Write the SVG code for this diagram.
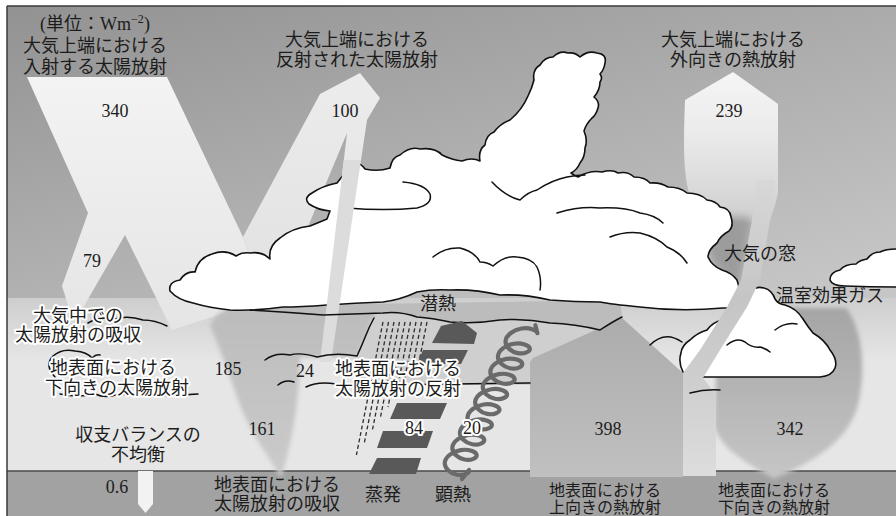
<svg xmlns="http://www.w3.org/2000/svg" width="896" height="516" viewBox="0 0 896 516">
  <style>
    .jp { font-family: "Liberation Serif", "Noto Sans CJK JP", serif; font-size: 18px; fill: #1c1c1c; text-anchor: middle; }
    .jp-s { font-size: 16px; }
    .num { font-family: "Liberation Serif", serif; font-size: 18px; fill: #1c1c1c; text-anchor: middle; }
    .halo { stroke: #ffffff; stroke-width: 4; stroke-linejoin: round; paint-order: stroke; }
    .cloud { fill: #ffffff; stroke: #111111; stroke-width: 1.6; stroke-linejoin: round; }
    .cline { fill: none; stroke: #111111; stroke-width: 1.5; stroke-linecap: round; }
    .rain { stroke: #2e2e2e; stroke-width: 1.3; stroke-dasharray: 4 2.6; }
    .evap { fill: #595959; }
  </style>
  <defs>
    <linearGradient id="sky" gradientUnits="userSpaceOnUse" x1="0" y1="6" x2="120" y2="470">
      <stop offset="0" stop-color="#929292"/>
      <stop offset="0.55" stop-color="#afafaf"/>
      <stop offset="1" stop-color="#c6c6c6"/>
    </linearGradient>
    <linearGradient id="low" gradientUnits="userSpaceOnUse" x1="0" y1="296" x2="0" y2="362">
      <stop offset="0" stop-color="#cdcdcd"/>
      <stop offset="1" stop-color="#e6e6e6"/>
    </linearGradient>
    <linearGradient id="b340" gradientUnits="userSpaceOnUse" x1="0" y1="77" x2="0" y2="330">
      <stop offset="0" stop-color="#f3f3f3"/>
      <stop offset="1" stop-color="#e5e5e5"/>
    </linearGradient>
    <linearGradient id="b100" gradientUnits="userSpaceOnUse" x1="0" y1="73" x2="0" y2="362">
      <stop offset="0" stop-color="#ececec"/>
      <stop offset="1" stop-color="#dedede"/>
    </linearGradient>
    <linearGradient id="b239" gradientUnits="userSpaceOnUse" x1="0" y1="72" x2="0" y2="222">
      <stop offset="0" stop-color="#f5f5f5"/>
      <stop offset="0.4" stop-color="#ebebeb"/>
      <stop offset="1" stop-color="#cfcfcf"/>
    </linearGradient>
    <linearGradient id="funnel" gradientUnits="userSpaceOnUse" x1="0" y1="306" x2="0" y2="478">
      <stop offset="0" stop-color="#bcbcbc"/>
      <stop offset="1" stop-color="#cbcbcb"/>
    </linearGradient>
    <linearGradient id="up398" gradientUnits="userSpaceOnUse" x1="0" y1="318" x2="0" y2="477">
      <stop offset="0" stop-color="#acacac"/>
      <stop offset="1" stop-color="#c0c0c0"/>
    </linearGradient>
    <linearGradient id="down342" gradientUnits="userSpaceOnUse" x1="0" y1="308" x2="0" y2="479">
      <stop offset="0" stop-color="#a5a5a5"/>
      <stop offset="1" stop-color="#c6c6c6"/>
    </linearGradient>
    <linearGradient id="win" gradientUnits="userSpaceOnUse" x1="0" y1="180" x2="0" y2="476">
      <stop offset="0" stop-color="#d8d8d8"/>
      <stop offset="0.4" stop-color="#c5c5c5"/>
      <stop offset="0.7" stop-color="#cfcfcf"/>
      <stop offset="1" stop-color="#dddddd"/>
    </linearGradient>
    <filter id="soft" x="-10%" y="-10%" width="120%" height="120%">
      <feGaussianBlur stdDeviation="2"/>
    </filter>
    <filter id="softer" x="-20%" y="-20%" width="140%" height="140%">
      <feGaussianBlur stdDeviation="4"/>
    </filter>
  </defs>

  <!-- paper and frame -->
  <rect x="0" y="0" width="896" height="516" fill="#ffffff"/>
  <rect x="7" y="6" width="889" height="510" fill="url(#sky)"/>

  <!-- lower atmosphere -->
  <path d="M7,298 L896,298 L896,471 L7,471 Z" fill="url(#low)"/>

  <!-- ground -->
  <g id="ground">
    <rect x="7" y="471" width="889" height="45" fill="#a2a2a2"/>
    <line x1="7" y1="471" x2="896" y2="471" stroke="#4a4a4a" stroke-width="1.5"/>
  </g>

  <!-- solar and thermal flux bands -->
  <g id="flux-bands">
    <path id="incoming-340" d="M27,77 L167,77 L243,237 L262,290 L240,308 L172,330 L125,235 L80,313 L66,313 L68,305 L62,286 L88,213 Z" fill="url(#b340)"/>
    <path id="reflected-100" d="M243,237 L320,94 L360,73 L380,98 L367,120 L331,362 L320,362 L347,133 L292,265 L262,290 Z" fill="url(#b100)"/>
    <path id="outgoing-239" d="M733,72 L778,104 L778,192 C776,205 772,212 770,222 L752,222 C740,222 700,215 690,195 C682,175 684,130 685,100 Z" fill="url(#b239)"/>
    <path id="window-shade" d="M700,214 L752,218 L741,282 L733,288 L712,262 Z" fill="#9c9c9c" filter="url(#softer)"/>
    <path id="absorbed-161" d="M236,306 L380,306 L373,318 L358,357 L300,357 C299,390 296,430 281,478 C268,455 248,430 238,400 C228,370 218,345 210,325 C215,315 225,308 236,306 Z" fill="url(#funnel)" filter="url(#soft)"/>
    <path id="latent-band" d="M230,306 L620,300 L622,316 Q610,322 600,330 Q575,324 550,323 Q525,318 500,320 Q475,324 450,322 Q432,318 417,317 Q400,311 383,313 Q355,314 323,315 Q285,312 250,310 Z" fill="#bcbcbc"/>
    <path id="low-cloud" d="M374,318 Q380,312 383,313 Q400,311 417,317 Q432,318 450,322 Q475,324 500,320 Q525,318 550,323 Q575,324 600,330 Q612,322 622,317 L537,357 L533,385 L358,385 L358,357 Q362,345 366,335 Q370,325 374,318 Z" fill="#cfcfcf"/>
    <path id="up-398" d="M533,358 L622,318 L683,373 L683,477 L530,477 L530,362 Z" fill="url(#up398)"/>
    <path id="down-342" d="M735,308 L846,308 C860,325 866,360 860,395 C855,430 830,455 774,479 C745,462 720,448 714,425 L716,378 L725,330 Z" fill="url(#down342)" filter="url(#soft)"/>
    <path id="imbalance-06" d="M138,471 L153,471 L153,504 L145.5,513 L138,504 Z" fill="#f2f2f2"/>
  </g>

  <!-- clouds -->
  <g id="clouds">
    <path id="main-cloud" class="cloud" d="M170,291 Q168,282 180,280 Q186,271 195,272 Q198,258 212,254 Q225,249 236,256 Q242,252 250,253 Q262,251 270,259 Q268,246 280,238 Q292,228 310,226 Q320,222 327,219 L330,211 Q318,210 309,204 Q303,198 312,193 Q322,186 337,183 L352,164 Q358,160 365,169 Q378,172 390,168 Q392,157 400,155 Q410,146 420,149 Q435,147 442,155 Q452,160 462,161 Q472,157 480,161 Q478,150 485,145 Q486,135 494,132 Q500,124 510,120 Q522,110 528,96 Q532,88 534,80 Q532,70 540,65 Q545,57 553,57 Q560,50 568,53 Q575,52 580,57 Q588,50 597,53 Q607,54 605,63 Q604,70 600,74 Q603,78 600,82 Q600,90 594,97 Q600,102 598,108 Q596,115 592,118 Q586,124 584,131 Q588,140 585,148 Q585,157 580,163 Q577,170 571,173 Q575,176 578,177 Q590,170 602,172 Q612,169 618,173 Q628,171 634,177 Q645,177 650,183 Q660,182 668,187 Q680,187 687,193 Q700,193 707,200 Q716,201 720,207 Q730,208 731,217 Q734,226 729,231 Q720,236 717,243 Q708,250 708,257 Q712,266 722,270 Q732,273 737,280 Q741,292 740,308 L723,308 Q680,312 640,307 Q610,304 600,302 Q575,302 550,300 Q525,294 500,295 Q475,289 450,290 Q432,289 417,292 Q400,300 383,302 Q355,303 327,305 Q300,307 283,307 Q255,311 230,310 Q210,308 193,303 Q178,300 170,291 Z"/>
    <path class="cline" d="M347,208 Q385,211 417,208 Q433,204 430,194 Q425,184 403,182"/>
    <path class="cline" d="M492,182 Q505,196 520,200 Q528,192 537,190 Q552,180 567,177 Q577,175 585,175"/>
    <path class="cline" d="M557,213 Q580,206 600,208 Q625,207 640,213 Q655,215 663,223"/>
    <path class="cline" d="M610,237 Q625,231 640,233 Q657,237 667,247 Q680,252 687,263"/>
    <path class="cline" d="M433,257 Q445,247 460,248 Q475,252 480,262 Q487,262 493,266 Q505,255 517,257 Q532,258 537,267 Q542,278 540,290"/>
    <path id="right-cloud" class="cloud" d="M897,249 Q886,249 880,252 Q872,252 867,259 Q860,260 856,264 Q845,264 840,270 Q830,272 830,280 Q832,286 845,286 Q870,287 897,287"/>
    <path id="low-right-cloud" class="cloud" d="M683,372 Q678,362 681,353 Q682,345 690,340 Q697,333 707,330 Q713,322 722,320 Q730,316 737,307 Q742,296 750,290 Q757,286 764,288 Q772,290 775,299 Q778,304 785,305 Q796,308 803,319 Q808,327 813,333 Q825,340 830,350 Q838,360 835,368 Q832,376 820,377 L700,377 Q688,377 683,372 Z"/>
    <path class="cline" d="M727,345 Q737,337 745,342 Q752,348 760,347 Q767,349 770,352"/>
    <path class="cline" d="M775,330 Q785,322 797,324"/>
    <path class="cline" d="M650,345 Q665,330 682,342"/>
  </g>

  <!-- strips crossing the clouds -->
  <path id="surface-reflection-strip" d="M343.8,160 L361,160 L331,362 L320,362 Z" fill="#dcdcdc"/>
  <path id="atmospheric-window" d="M683,476 L716,476 L716,395 L703,378 L720,350 L747,307 L760,280 L770,220 L775,180 L757,180 L752,220 L741,280 L727,307 L700,350 L683,373 Z" fill="url(#win)"/>

  <!-- low cloud outlines and latent heat band edge -->
  <g id="cloud-lines">
    <path class="cline" d="M250,310 Q285,312 323,315 Q355,314 383,313 Q400,311 417,317 Q432,318 450,322 Q475,324 500,320 Q525,318 550,323 Q575,324 600,330 Q612,322 622,317"/>
    <path class="cline" d="M265,360 Q275,352 290,355 Q300,352 317,357 Q335,352 357,356 Q362,345 366,335 Q370,325 374,318"/>
    <path class="cline" d="M278,385 Q285,379 294,382 M306,387 Q318,381 336,384 Q360,387 380,385 L530,383"/>
    <path class="cline" d="M690,393 Q705,389 720,390"/>
    <path class="cline" d="M88,323 Q100,316 115,319 Q128,315 143,320 Q155,320 167,326"/>
    <path class="cline" d="M55,377 Q44,365 53,356 Q62,348 75,351 Q87,352 92,358 Q96,354 100,355"/>
    <path class="cline" d="M60,394 Q78,398 95,394 Q106,399 118,394 Q160,397 198,394"/>
  </g>

  <!-- surface processes: rain, evaporation, sensible heat -->
  <g id="rain">
    <line class="rain" x1="383" y1="322" x2="356.4" y2="455"/>
    <line class="rain" x1="388.5" y1="322" x2="364.3" y2="443"/>
    <line class="rain" x1="394" y1="322" x2="372.2" y2="431"/>
    <line class="rain" x1="399.5" y1="322" x2="380.1" y2="419"/>
    <line class="rain" x1="405" y1="322" x2="388" y2="407"/>
    <line class="rain" x1="410.5" y1="322" x2="395.9" y2="395"/>
    <line class="rain" x1="416" y1="322" x2="403.8" y2="383"/>
    <line class="rain" x1="421.5" y1="322" x2="411.7" y2="371"/>
    <line class="rain" x1="427" y1="322" x2="419.6" y2="359"/>
  </g>
  <g id="evaporation">
    <path class="evap" d="M432,343 L441,326 L462,321 L477,333 L474,344 Z"/>
    <path class="evap" d="M423,350 L468,350 L461,364 L417,364 Z"/>
    <path class="evap" d="M397,403 L447,403 L440,419 L390,419 Z"/>
    <path class="evap" d="M383,431 L433,431 L427,448 L377,448 Z"/>
    <path class="evap" d="M377,458 L421,458 L416,474 L369,474 Z"/>
  </g>
  <!-- sensible heat coil: nine flat loops climbing up-right -->
  <path id="sensible-heat" fill="none" stroke="#6a6a6a" stroke-width="4.2" stroke-linecap="round" stroke-linejoin="round"
    d="M462,479 L469,470
       c0.63,3.18 -5.4,5.97 -12.1,4.7 c-6.7,-1.27 -12.73,-6.58 -12.1,-12.3 c0.63,-5.72 7.94,-11.03 15.9,-12.3 c7.96,-1.27 15.27,1.52 15.9,4.7
       c0.63,3.18 -5.4,5.97 -12.1,4.7 c-6.7,-1.27 -12.73,-6.58 -12.1,-12.3 c0.63,-5.72 7.94,-11.03 15.9,-12.3 c7.96,-1.27 15.27,1.52 15.9,4.7
       c0.63,3.18 -5.4,5.97 -12.1,4.7 c-6.7,-1.27 -12.73,-6.58 -12.1,-12.3 c0.63,-5.72 7.94,-11.03 15.9,-12.3 c7.96,-1.27 15.27,1.52 15.9,4.7
       c0.63,3.18 -5.4,5.97 -12.1,4.7 c-6.7,-1.27 -12.73,-6.58 -12.1,-12.3 c0.63,-5.72 7.94,-11.03 15.9,-12.3 c7.96,-1.27 15.27,1.52 15.9,4.7
       c0.63,3.18 -5.4,5.97 -12.1,4.7 c-6.7,-1.27 -12.73,-6.58 -12.1,-12.3 c0.63,-5.72 7.94,-11.03 15.9,-12.3 c7.96,-1.27 15.27,1.52 15.9,4.7
       c0.63,3.18 -5.4,5.97 -12.1,4.7 c-6.7,-1.27 -12.73,-6.58 -12.1,-12.3 c0.63,-5.72 7.94,-11.03 15.9,-12.3 c7.96,-1.27 15.27,1.52 15.9,4.7
       c0.63,3.18 -5.4,5.97 -12.1,4.7 c-6.7,-1.27 -12.73,-6.58 -12.1,-12.3 c0.63,-5.72 7.94,-11.03 15.9,-12.3 c7.96,-1.27 15.27,1.52 15.9,4.7
       c0.63,3.18 -5.4,5.97 -12.1,4.7 c-6.7,-1.27 -12.73,-6.58 -12.1,-12.3 c0.63,-5.72 7.94,-11.03 15.9,-12.3 c7.96,-1.27 15.27,1.52 15.9,4.7
       c0.63,3.18 -5.4,5.97 -12.1,4.7 c-6.7,-1.27 -12.73,-6.58 -12.1,-12.3 c0.63,-5.72 7.94,-11.03 15.9,-12.3 c7.96,-1.27 15.27,1.52 15.9,4.7
       l-2,-8"/>

  <!-- frame lines -->
  <line x1="7" y1="6" x2="896" y2="6" stroke="#3a3a3a" stroke-width="1.5"/>
  <line x1="7" y1="6" x2="7" y2="516" stroke="#3a3a3a" stroke-width="1.5"/>

  <!-- labels -->
  <g id="labels">
    <text class="jp" x="95" y="30">(単位：Wm<tspan font-size="12" dy="-7">−2</tspan><tspan dy="7">)</tspan></text>
    <text class="jp" x="95" y="51.5">大気上端における</text>
    <text class="jp" x="95" y="72.5">入射する太陽放射</text>
    <text class="jp" x="357" y="46">大気上端における</text>
    <text class="jp" x="357" y="66">反射された太陽放射</text>
    <text class="jp" x="733" y="46">大気上端における</text>
    <text class="jp" x="733" y="66">外向きの熱放射</text>

    <text class="num" x="115" y="116.5">340</text>
    <text class="num" x="345" y="117">100</text>
    <text class="num" x="729" y="117">239</text>
    <text class="num" x="92" y="267">79</text>
    <text class="num" x="228" y="375">185</text>
    <text class="num" x="305" y="377">24</text>
    <text class="num" x="262" y="435">161</text>
    <text class="num halo" x="414" y="434">84</text>
    <text class="num halo" x="472" y="434">20</text>
    <text class="num" x="608" y="435">398</text>
    <text class="num" x="790" y="435">342</text>
    <text class="num" x="117" y="493">0.6</text>

    <text class="jp halo" x="78" y="321.5">大気中での</text>
    <text class="jp halo" x="78" y="340.5">太陽放射の吸収</text>
    <text class="jp halo" x="113" y="374">地表面における</text>
    <text class="jp halo" x="117" y="394">下向きの太陽放射</text>
    <text class="jp" x="138" y="441">収支バランスの</text>
    <text class="jp" x="138" y="461">不均衡</text>
    <text class="jp" x="277" y="491">地表面における</text>
    <text class="jp" x="277" y="510">太陽放射の吸収</text>
    <text class="jp" x="383" y="501">蒸発</text>
    <text class="jp" x="453" y="501">顕熱</text>
    <text class="jp halo" x="398" y="374.5">地表面における</text>
    <text class="jp halo" x="398" y="394.5">太陽放射の反射</text>
    <text class="jp" x="438" y="310">潜熱</text>
    <text class="jp jp-s" x="605" y="495.5">地表面における</text>
    <text class="jp jp-s" x="605" y="513">上向きの熱放射</text>
    <text class="jp jp-s" x="774" y="495.5">地表面における</text>
    <text class="jp jp-s" x="774" y="513">下向きの熱放射</text>
    <text class="jp" x="760" y="259.5">大気の窓</text>
    <text class="jp" x="830" y="301.5">温室効果ガス</text>
  </g>
</svg>
